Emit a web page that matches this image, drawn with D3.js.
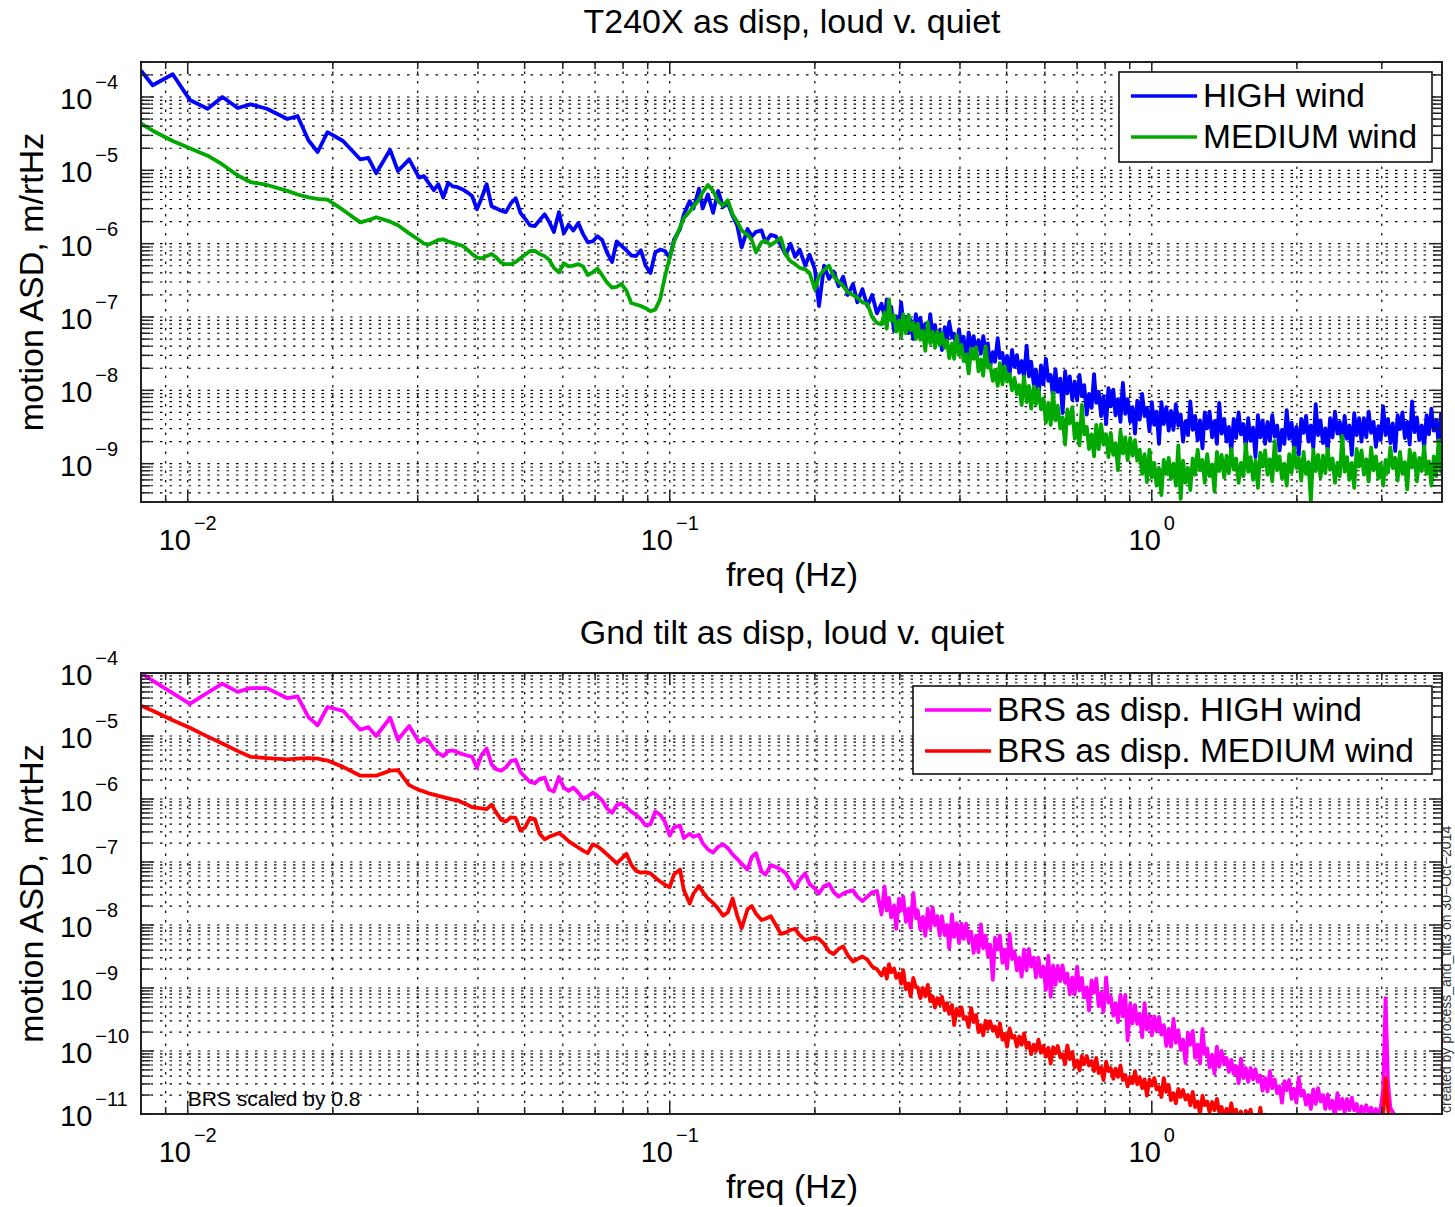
<!DOCTYPE html>
<meta charset="utf-8">
<style>
body { margin: 0; background: #fff; }
svg { display: block; font-family: "Liberation Sans", Arial, Helvetica, sans-serif; }
.grid line { stroke: #000; stroke-width: 1.2; stroke-dasharray: 2.5,7; }
.trace { fill: none; stroke-width: 3.8; stroke-linejoin: round; }
.frame { fill: none; stroke: #222; stroke-width: 2; }
.tick { stroke: #222; stroke-width: 1.5; }
</style>
<svg width="1455" height="1207"></svg>
<script src="https://cdn.jsdelivr.net/npm/d3@7"></script>
<script>
// frequency bins in Hz, shared by both plots
var freqHz = [
  0.0080, 0.00846, 0.00931, 0.0101, 0.0110, 0.0118, 0.0127, 0.0135, 0.0146, 0.0161, 0.0169, 0.0178, 0.0186, 0.0195, 0.0210, 0.0228, 0.0237, 0.0246, 0.0263, 0.0273, 0.0288,
  0.0302, 0.0309, 0.0316, 0.0324, 0.0331, 0.0339, 0.0347, 0.0355, 0.0363, 0.0372,
  0.0380, 0.0389, 0.0398, 0.0407, 0.0417, 0.0427, 0.0437, 0.0447, 0.0457, 0.0468,
  0.0479, 0.0490, 0.0501, 0.0513, 0.0525, 0.0537, 0.0550, 0.0562, 0.0575, 0.0589,
  0.0603, 0.0617, 0.0631, 0.0646, 0.0661, 0.0676, 0.0692, 0.0708, 0.0724, 0.0741,
  0.0759, 0.0776, 0.0794, 0.0813, 0.0832, 0.0851, 0.0871, 0.0891, 0.0912, 0.0933,
  0.0955, 0.0977, 0.100, 0.102, 0.105, 0.107, 0.110, 0.112, 0.115, 0.117,
  0.120, 0.123, 0.126, 0.129, 0.132, 0.135, 0.138, 0.141, 0.145, 0.148,
  0.151, 0.155, 0.158, 0.162, 0.166, 0.170, 0.174, 0.178, 0.182, 0.186,
  0.191, 0.195, 0.200, 0.204, 0.209, 0.214, 0.219, 0.224, 0.229, 0.234,
  0.240, 0.245, 0.251, 0.257, 0.263, 0.269,
  0.275, 0.279, 0.282, 0.285, 0.288, 0.292, 0.295, 0.299, 0.302, 0.305,
  0.309, 0.313, 0.316, 0.320, 0.324, 0.327, 0.331, 0.335, 0.339, 0.343,
  0.347, 0.351, 0.355, 0.359, 0.363, 0.367, 0.372, 0.376, 0.380, 0.385,
  0.389, 0.394, 0.398, 0.403, 0.407, 0.412, 0.417, 0.422, 0.427, 0.432,
  0.437, 0.442, 0.447, 0.452, 0.457, 0.462, 0.468, 0.473, 0.479, 0.484,
  0.490, 0.495, 0.501, 0.507, 0.513, 0.519, 0.525, 0.531, 0.537, 0.543,
  0.550, 0.556, 0.562, 0.569, 0.575, 0.582, 0.589, 0.596, 0.603, 0.610,
  0.617, 0.624, 0.631, 0.638, 0.646, 0.653, 0.661, 0.668, 0.676, 0.684,
  0.692, 0.700, 0.708, 0.716, 0.724, 0.733, 0.741, 0.750, 0.759, 0.767,
  0.776, 0.785, 0.794, 0.804, 0.813, 0.822, 0.832, 0.841, 0.851, 0.861,
  0.871, 0.881, 0.891, 0.902, 0.912, 0.923, 0.933, 0.944, 0.955, 0.966,
  0.977, 0.989, 1.000, 1.012, 1.023, 1.035, 1.047, 1.059, 1.072, 1.084,
  1.096, 1.109, 1.122, 1.135, 1.148, 1.161, 1.175, 1.189, 1.202, 1.216,
  1.230, 1.245, 1.259, 1.274, 1.288, 1.303, 1.318, 1.334, 1.349, 1.365,
  1.380, 1.396, 1.413, 1.429, 1.445, 1.462, 1.479, 1.496, 1.514, 1.531,
  1.549, 1.567, 1.585, 1.603, 1.622, 1.641, 1.660, 1.679, 1.698, 1.718,
  1.738, 1.758, 1.778, 1.799, 1.820, 1.841, 1.862, 1.884, 1.905, 1.928,
  1.950, 1.972, 1.995, 2.018, 2.042, 2.065, 2.089, 2.113, 2.138, 2.163,
  2.188, 2.213, 2.239, 2.265, 2.291, 2.317, 2.344, 2.371, 2.399, 2.427,
  2.455, 2.483, 2.512, 2.541, 2.570, 2.600, 2.630, 2.661, 2.692, 2.723,
  2.754, 2.786, 2.818, 2.851, 2.884, 2.917, 2.951, 2.985, 3.020, 3.055,
  3.090, 3.126, 3.162, 3.199, 3.236, 3.273, 3.311, 3.350, 3.388, 3.428,
  3.467, 3.508, 3.548, 3.589, 3.631, 3.673, 3.715, 3.758, 3.802, 3.846,
  3.890, 3.936, 3.981, 4.000
];

// ASD, as log10(m/rtHz)
var t240High = [
  -3.64, -3.84, -3.69, -4.04, -4.16, -4.00, -4.15, -4.10, -4.16, -4.30, -4.26, -4.59, -4.75, -4.48, -4.60, -4.85, -4.83, -5.04, -4.72, -5.01, -4.85,
  -5.10, -5.08, -5.17, -5.27, -5.19, -5.37, -5.17, -5.22, -5.23, -5.26,
  -5.30, -5.35, -5.53, -5.38, -5.19, -5.49, -5.52, -5.55, -5.57, -5.45,
  -5.38, -5.58, -5.66, -5.75, -5.76, -5.68, -5.60, -5.70, -5.84, -5.57,
  -5.86, -5.74, -5.82, -5.72, -5.87, -5.98, -5.97, -5.90, -5.95, -6.12,
  -6.25, -5.97, -6.03, -6.09, -6.16, -6.17, -6.09, -6.30, -6.40, -6.12,
  -6.08, -6.10, -6.19, -5.95, -5.80, -5.60, -5.42, -5.52, -5.25, -5.52,
  -5.33, -5.58, -5.28, -5.50, -5.45, -5.62, -5.75, -6.05, -5.80, -5.90,
  -5.84, -5.82, -5.98, -5.88, -5.90, -6.02, -6.15, -6.00, -6.18, -6.08,
  -6.30, -6.15, -6.35, -6.85, -6.30, -6.48, -6.38, -6.58, -6.45, -6.70,
  -6.55, -6.80, -6.62, -6.85, -6.70, -6.95,
  -6.82, -7.00, -6.76, -6.96, -6.86, -7.19, -6.99, -7.12, -6.80, -7.07,
  -7.00, -7.22, -7.04, -7.30, -6.96, -7.17, -7.01, -7.25, -7.09, -7.31,
  -6.96, -7.25, -7.11, -7.33, -7.18, -7.45, -7.14, -7.32, -7.07, -7.28,
  -7.23, -7.45, -7.17, -7.39, -7.27, -7.60, -7.21, -7.42, -7.26, -7.48,
  -7.32, -7.50, -7.26, -7.46, -7.36, -7.68, -7.48, -7.61, -7.29, -7.56,
  -7.49, -7.71, -7.53, -7.79, -7.45, -7.68, -7.52, -7.76, -7.60, -7.82,
  -7.39, -7.81, -7.61, -7.92, -7.72, -8.11, -7.66, -7.92, -7.57, -7.87,
  -7.79, -8.11, -7.71, -8.02, -7.84, -8.31, -7.74, -8.04, -7.81, -8.13,
  -7.88, -8.14, -7.79, -8.08, -7.93, -8.33, -8.05, -8.24, -7.78, -8.17,
  -8.02, -8.35, -8.08, -8.46, -7.97, -8.22, -7.99, -8.34, -8.12, -8.43,
  -7.90, -8.32, -8.12, -8.43, -8.23, -8.59, -8.14, -8.40, -8.05, -8.35,
  -8.24, -8.56, -8.16, -8.47, -8.29, -8.73, -8.16, -8.46, -8.23, -8.55,
  -8.28, -8.54, -8.19, -8.48, -8.33, -8.70, -8.42, -8.61, -8.15, -8.54,
  -8.35, -8.68, -8.41, -8.79, -8.30, -8.52, -8.29, -8.64, -8.42, -8.73,
  -8.17, -8.59, -8.39, -8.70, -8.50, -8.84, -8.39, -8.65, -8.30, -8.60,
  -8.46, -8.78, -8.38, -8.69, -8.51, -8.91, -8.34, -8.64, -8.41, -8.73,
  -8.43, -8.69, -8.34, -8.63, -8.48, -8.82, -8.54, -8.73, -8.27, -8.66,
  -8.44, -8.77, -8.50, -8.88, -8.39, -8.58, -8.35, -8.70, -8.48, -8.79,
  -8.19, -8.61, -8.41, -8.72, -8.52, -8.83, -8.38, -8.64, -8.29, -8.59,
  -8.43, -8.75, -8.35, -8.66, -8.48, -8.88, -8.31, -8.61, -8.38, -8.70,
  -8.38, -8.64, -8.29, -8.58, -8.43, -8.77, -8.49, -8.68, -8.22, -8.61,
  -8.39, -8.72, -8.45, -8.83, -8.34, -8.53, -8.30, -8.65, -8.43, -8.74,
  -8.15, -8.57, -8.37, -8.68, -8.48, -8.79, -8.34, -8.60, -8.25, -8.55,
  -8.40, -8.72, -8.32, -8.55
];
var t240Medium = [
  -4.36, -4.46, -4.60, -4.70, -4.80, -4.92, -5.07, -5.16, -5.20, -5.28, -5.33, -5.37, -5.39, -5.40, -5.54, -5.71, -5.68, -5.64, -5.70, -5.75, -5.86,
  -5.95, -6.00, -6.01, -5.98, -5.95, -5.94, -5.97, -5.99, -6.01, -6.03,
  -6.08, -6.14, -6.19, -6.20, -6.17, -6.14, -6.19, -6.26, -6.28, -6.28,
  -6.25, -6.20, -6.15, -6.10, -6.10, -6.14, -6.17, -6.22, -6.33, -6.39,
  -6.27, -6.31, -6.30, -6.28, -6.31, -6.43, -6.39, -6.34, -6.43, -6.53,
  -6.60, -6.59, -6.55, -6.64, -6.81, -6.83, -6.85, -6.88, -6.92, -6.90,
  -6.76, -6.45, -6.19, -5.98, -5.78, -5.65, -5.56, -5.49, -5.40, -5.30,
  -5.20, -5.28, -5.42, -5.48, -5.41, -5.60, -5.70, -5.82, -5.88, -5.95,
  -6.12, -5.98, -5.96, -6.02, -5.97, -5.92, -6.15, -6.24, -6.28, -6.33,
  -6.35, -6.40, -6.62, -6.44, -6.36, -6.30, -6.45, -6.52, -6.58, -6.66,
  -6.70, -6.74, -6.80, -6.82, -7.00, -7.08,
  -7.10, -6.94, -7.16, -6.76, -7.05, -6.98, -7.20, -7.05, -7.27, -6.96,
  -7.22, -6.97, -7.18, -7.08, -7.30, -7.09, -7.31, -7.19, -7.46, -7.07,
  -7.36, -7.20, -7.42, -7.20, -7.38, -7.22, -7.42, -7.32, -7.56, -7.36,
  -7.57, -7.25, -7.52, -7.38, -7.60, -7.51, -7.77, -7.43, -7.57, -7.41,
  -7.74, -7.58, -7.80, -7.40, -7.69, -7.65, -7.87, -7.72, -7.94, -7.63,
  -7.92, -7.67, -7.88, -7.78, -8.00, -7.83, -8.05, -7.93, -8.20, -7.81,
  -8.16, -7.94, -8.25, -7.95, -8.19, -7.98, -8.26, -8.11, -8.44, -8.17,
  -8.47, -8.03, -8.41, -8.21, -8.52, -8.37, -8.74, -8.26, -8.45, -8.23,
  -8.66, -8.45, -8.75, -8.20, -8.60, -8.50, -8.80, -8.60, -8.90, -8.47,
  -8.80, -8.46, -8.74, -8.60, -8.91, -8.58, -8.88, -8.72, -9.09, -8.55,
  -8.86, -8.64, -8.95, -8.65, -8.89, -8.68, -8.96, -8.81, -9.14, -8.87,
  -9.25, -8.81, -9.19, -8.99, -9.30, -9.06, -9.43, -8.95, -9.14, -8.92,
  -9.21, -9.00, -9.30, -8.75, -9.48, -8.96, -9.26, -9.06, -9.36, -8.93,
  -9.15, -8.81, -9.09, -8.95, -9.26, -8.87, -9.17, -9.01, -9.38, -8.84,
  -9.10, -8.88, -9.19, -8.89, -9.13, -8.80, -9.08, -8.93, -9.26, -8.99,
  -9.17, -8.73, -9.11, -8.91, -9.22, -8.96, -9.33, -8.85, -9.04, -8.82,
  -9.15, -8.94, -9.24, -8.69, -9.09, -8.90, -9.20, -9.00, -9.30, -8.87,
  -9.12, -8.78, -9.06, -8.92, -9.23, -8.84, -9.14, -8.98, -9.52, -8.81,
  -9.10, -8.88, -9.19, -8.89, -9.13, -8.80, -9.08, -8.93, -9.26, -8.99,
  -9.17, -8.62, -9.11, -8.91, -9.22, -8.99, -9.33, -8.80, -9.04, -8.82,
  -9.15, -8.94, -9.24, -8.78, -9.09, -8.90, -9.20, -9.00, -9.30, -8.95,
  -9.12, -8.78, -9.06, -8.92, -9.23, -8.84, -9.14, -8.98, -9.35, -8.81,
  -9.05, -8.86, -9.24, -8.92, -9.10, -8.76, -9.14, -8.97, -9.30, -8.90,
  -9.17, -8.68, -9.11, -8.95
];
var brsHigh = [
  -4.00, -4.12, -4.32, -4.49, -4.31, -4.17, -4.30, -4.24, -4.24, -4.40, -4.37, -4.70, -4.83, -4.54, -4.60, -4.90, -4.86, -5.00, -4.71, -5.06, -4.84,
  -5.10, -5.04, -5.08, -5.20, -5.27, -5.32, -5.24, -5.23, -5.26, -5.29,
  -5.31, -5.33, -5.50, -5.30, -5.20, -5.45, -5.53, -5.55, -5.50, -5.40,
  -5.38, -5.57, -5.65, -5.73, -5.75, -5.68, -5.66, -5.85, -5.88, -5.65,
  -5.82, -5.87, -5.82, -5.90, -6.00, -5.96, -5.90, -5.95, -6.02, -6.15,
  -6.22, -6.10, -6.07, -6.13, -6.20, -6.25, -6.32, -6.42, -6.40, -6.20,
  -6.25, -6.36, -6.58, -6.45, -6.42, -6.62, -6.55, -6.60, -6.57, -6.70,
  -6.80, -6.85, -6.76, -6.72, -6.78, -6.88, -6.95, -7.03, -7.12, -6.92,
  -6.86, -7.15, -7.20, -7.05, -7.08, -7.12, -7.18, -7.30, -7.42, -7.28,
  -7.18, -7.35, -7.42, -7.50, -7.38, -7.35, -7.48, -7.55, -7.50, -7.47,
  -7.45, -7.55, -7.62, -7.55, -7.48, -7.46,
  -7.83, -7.39, -7.77, -7.57, -7.88, -7.69, -8.06, -7.58, -7.77, -7.55,
  -7.95, -7.74, -8.04, -7.49, -7.89, -7.77, -8.07, -7.87, -8.17, -7.74,
  -8.06, -7.72, -8.00, -7.86, -8.17, -7.86, -8.16, -8.00, -8.37, -7.83,
  -8.19, -7.97, -8.28, -7.98, -8.22, -7.98, -8.26, -8.11, -8.44, -8.17,
  -8.43, -7.99, -8.37, -8.17, -8.48, -8.31, -8.87, -8.20, -8.39, -8.17,
  -8.60, -8.39, -8.69, -8.14, -8.54, -8.42, -8.72, -8.52, -8.82, -8.39,
  -8.72, -8.38, -8.66, -8.52, -8.83, -8.52, -8.82, -8.66, -9.03, -8.49,
  -9.14, -8.64, -8.95, -8.65, -8.89, -8.64, -8.92, -8.77, -9.10, -8.83,
  -9.10, -8.66, -9.04, -8.84, -9.15, -8.99, -9.36, -8.88, -9.07, -8.85,
  -9.29, -9.08, -9.38, -8.83, -9.23, -9.14, -9.44, -9.24, -9.54, -9.11,
  -9.45, -9.11, -9.83, -9.25, -9.56, -9.27, -9.57, -9.41, -9.78, -9.24,
  -9.66, -9.44, -9.75, -9.45, -9.69, -9.46, -9.74, -9.59, -9.92, -9.65,
  -9.93, -9.49, -9.87, -9.67, -9.98, -9.82, -10.19, -9.71, -9.90, -9.68,
  -10.11, -9.90, -10.20, -9.65, -10.05, -9.96, -10.26, -10.06, -10.36, -9.93,
  -10.25, -10.00, -10.21, -10.11, -10.33, -10.14, -10.36, -10.24, -10.51, -10.12,
  -10.43, -10.27, -10.49, -10.27, -10.45, -10.29, -10.49, -10.39, -10.63, -10.43,
  -10.64, -10.32, -10.59, -10.45, -10.67, -10.56, -10.82, -10.48, -10.62, -10.46,
  -10.76, -10.60, -10.82, -10.42, -10.71, -10.63, -10.85, -10.70, -10.92, -10.61,
  -10.84, -10.59, -10.80, -10.70, -10.92, -10.69, -10.91, -10.79, -11.06, -10.67,
  -10.92, -10.76, -10.98, -10.76, -10.94, -10.74, -10.94, -10.84, -11.08, -10.88,
  -10.97, -10.86, -10.99, -10.90, -11.00, -10.92, -11.01, -10.90, -10.60, -9.16,
  -10.50, -10.90, -10.97, -11.02, -11.10, -11.30, -11.25, -11.35, -11.30, -11.40,
  -11.35, -11.40, -11.45, -11.40, -11.50, -11.45, -11.50, -11.50, -11.50, -11.50,
  -11.50, -11.50, -11.50, -11.50
];
var brsMedium = [
  -4.52, -4.60, -4.75, -4.87, -5.01, -5.12, -5.24, -5.33, -5.35, -5.37, -5.36, -5.35, -5.36, -5.39, -5.49, -5.63, -5.63, -5.63, -5.55, -5.54, -5.78,
  -5.86, -5.88, -5.91, -5.93, -5.95, -5.97, -5.99, -6.01, -6.02, -6.06,
  -6.09, -6.13, -6.14, -6.15, -6.16, -6.09, -6.22, -6.33, -6.36, -6.29,
  -6.30, -6.50, -6.45, -6.30, -6.32, -6.55, -6.64, -6.60, -6.57, -6.54,
  -6.60, -6.67, -6.72, -6.77, -6.82, -6.86, -6.72, -6.75, -6.81, -6.88,
  -6.95, -7.02, -6.95, -6.87, -7.04, -7.14, -7.17, -7.16, -7.18, -7.25,
  -7.31, -7.36, -7.40, -7.20, -7.12, -7.45, -7.66, -7.50, -7.38, -7.47,
  -7.58, -7.65, -7.74, -7.85, -7.80, -7.58, -7.85, -8.05, -7.75, -7.70,
  -7.82, -7.92, -7.90, -7.86, -8.00, -8.14, -8.12, -8.08, -8.06, -8.16,
  -8.24, -8.22, -8.20, -8.22, -8.30, -8.42, -8.46, -8.38, -8.34, -8.48,
  -8.58, -8.54, -8.50, -8.55, -8.66, -8.70,
  -8.80, -8.69, -8.85, -8.62, -8.75, -8.69, -8.84, -8.77, -8.93, -8.72,
  -9.02, -8.93, -9.13, -8.84, -8.99, -8.99, -9.16, -9.00, -9.13, -8.95,
  -9.21, -9.13, -9.31, -9.16, -9.26, -9.14, -9.35, -9.24, -9.41, -9.27,
  -9.59, -9.33, -9.43, -9.31, -9.49, -9.46, -9.62, -9.32, -9.54, -9.43,
  -9.70, -9.59, -9.75, -9.52, -9.65, -9.53, -9.68, -9.61, -9.77, -9.56,
  -9.82, -9.73, -9.93, -9.64, -9.79, -9.76, -9.93, -9.77, -9.90, -9.72,
  -9.95, -9.87, -10.05, -9.90, -10.00, -9.82, -10.03, -9.92, -10.09, -9.95,
  -10.20, -9.94, -10.04, -9.92, -10.10, -10.05, -10.21, -9.91, -10.13, -10.02,
  -10.26, -10.15, -10.31, -10.08, -10.21, -10.08, -10.23, -10.16, -10.32, -10.11,
  -10.35, -10.26, -10.46, -10.17, -10.32, -10.27, -10.44, -10.28, -10.41, -10.23,
  -10.46, -10.38, -10.56, -10.41, -10.51, -10.32, -10.53, -10.42, -10.59, -10.45,
  -10.71, -10.45, -10.55, -10.43, -10.61, -10.57, -10.73, -10.43, -10.65, -10.54,
  -10.78, -10.67, -10.83, -10.60, -10.73, -10.62, -10.77, -10.70, -10.86, -10.65,
  -10.89, -10.80, -11.00, -10.71, -10.86, -10.80, -10.97, -10.81, -10.94, -10.76,
  -10.97, -10.89, -11.07, -10.92, -11.02, -10.83, -11.04, -10.93, -11.10, -10.96,
  -11.21, -10.95, -11.05, -10.93, -11.11, -11.04, -11.20, -10.90, -11.12, -11.01,
  -11.22, -11.11, -11.27, -11.04, -11.17, -11.03, -11.18, -11.11, -11.27, -11.06,
  -11.27, -11.18, -11.38, -11.09, -11.24, -11.12, -11.29, -11.13, -11.26, -11.08,
  -11.31, -11.23, -11.41, -11.26, -11.36, -11.12, -11.33, -11.22, -11.39, -11.25,
  -11.45, -11.19, -11.29, -11.17, -11.35, -11.24, -11.40, -11.10, -11.32, -11.21,
  -11.45, -11.34, -11.50, -11.27, -11.40, -11.22, -11.37, -11.30, -11.00, -10.43,
  -10.90, -11.30, -11.50, -11.50, -11.50, -11.50, -11.50, -11.50, -11.50, -11.50,
  -11.50, -11.50, -11.50, -11.50, -11.50, -11.50, -11.50, -11.50, -11.50, -11.50,
  -11.50, -11.50, -11.50, -11.50
];

var xTickVals = [0.01, 0.1, 1];
var xTickExps = ["\u22122", "\u22121", "0"];
var yTickValsTop = [1e-4, 1e-5, 1e-6, 1e-7, 1e-8, 1e-9];
var yTickExpsTop = ["\u22124", "\u22125", "\u22126", "\u22127", "\u22128", "\u22129"];
var yTickValsBot = [1e-4, 1e-5, 1e-6, 1e-7, 1e-8, 1e-9, 1e-10, 1e-11];
var yTickExpsBot = ["\u22124", "\u22125", "\u22126", "\u22127", "\u22128", "\u22129", "\u221210", "\u221211"];

var svg = d3.select("svg");
var left = 141, right = 1442;
var x = d3.scaleLog().domain([0.008, 4]).range([left, right]);

function isDecade(v) {
  var l = Math.log10(v);
  return Math.abs(l - Math.round(l)) < 1e-6;
}

var panels = [
  { title: "T240X as disp, loud v. quiet", top: 62, bottom: 502, yDomain: [3e-10, 3e-4],
    yTicks: yTickValsTop, yExps: yTickExpsTop,
    series: [ { vals: t240High, color: "#0000ff", name: "HIGH wind" },
              { vals: t240Medium, color: "#00a800", name: "MEDIUM wind" } ],
    legend: { x: 1119, y: 72, w: 313, h: 90 } },
  { title: "Gnd tilt as disp, loud v. quiet", top: 673, bottom: 1114, yDomain: [1e-11, 1e-4],
    yTicks: yTickValsBot, yExps: yTickExpsBot,
    series: [ { vals: brsHigh, color: "#ff00ff", name: "BRS as disp. HIGH wind" },
              { vals: brsMedium, color: "#ff0000", name: "BRS as disp. MEDIUM wind" } ],
    legend: { x: 913, y: 686, w: 519, h: 88 },
    note: "BRS scaled by 0.8" }
];

function drawPanel(p, idx) {
  var y = d3.scaleLog().domain(p.yDomain).range([p.bottom, p.top]);
  var g = svg.append("g");

  svg.append("clipPath").attr("id", "clip" + idx).append("rect")
    .attr("x", left).attr("y", p.top)
    .attr("width", right - left).attr("height", p.bottom - p.top);

  // dotted grid on every decade step
  var grid = g.append("g").attr("class", "grid");
  grid.selectAll(".gx").data(x.ticks()).enter().append("line")
    .attr("x1", function(d) { return x(d); }).attr("x2", function(d) { return x(d); })
    .attr("y1", p.top).attr("y2", p.bottom);
  grid.selectAll(".gy").data(y.ticks()).enter().append("line")
    .attr("x1", left).attr("x2", right)
    .attr("y1", function(d) { return y(d); }).attr("y2", function(d) { return y(d); });

  // traces
  var line = d3.line()
    .x(function(d, i) { return x(freqHz[i]); })
    .y(function(d) { return y(Math.pow(10, d)); });
  g.append("g").attr("clip-path", "url(#clip" + idx + ")")
    .selectAll("path").data(p.series).enter().append("path")
    .attr("class", "trace")
    .attr("stroke", function(s) { return s.color; })
    .attr("d", function(s) { return line(s.vals); });

  // frame + inward ticks
  g.append("rect").attr("class", "frame")
    .attr("x", left).attr("y", p.top)
    .attr("width", right - left).attr("height", p.bottom - p.top);

  var ticks = g.append("g");
  x.ticks().forEach(function(v) {
    var len = isDecade(v) ? 12 : 7;
    ticks.append("line").attr("class", "tick")
      .attr("x1", x(v)).attr("x2", x(v)).attr("y1", p.bottom).attr("y2", p.bottom - len);
    ticks.append("line").attr("class", "tick")
      .attr("x1", x(v)).attr("x2", x(v)).attr("y1", p.top).attr("y2", p.top + len);
  });
  y.ticks().forEach(function(v) {
    var len = isDecade(v) ? 13 : 9;
    ticks.append("line").attr("class", "tick")
      .attr("x1", left).attr("x2", left + len).attr("y1", y(v)).attr("y2", y(v));
    ticks.append("line").attr("class", "tick")
      .attr("x1", right).attr("x2", right - len).attr("y1", y(v)).attr("y2", y(v));
  });

  // tick labels, 10^n
  g.selectAll(".xl").data(xTickVals).enter().append("text")
    .attr("x", function(d) { return x(d); }).attr("y", p.bottom + 48)
    .attr("text-anchor", "middle").attr("font-size", 29)
    .each(function(d, i) {
      var t = d3.select(this);
      t.append("tspan").text("10");
      t.append("tspan").attr("dx", 3).attr("dy", -20).attr("font-size", 20).text(xTickExps[i]);
    });
  g.selectAll(".yl").data(p.yTicks).enter().append("text")
    .attr("x", 60).attr("y", function(d) { return y(d) + 12; })
    .attr("font-size", 29)
    .each(function(d, i) {
      var t = d3.select(this);
      t.append("tspan").text("10");
      t.append("tspan").attr("dx", 3).attr("dy", -20).attr("font-size", 20).text(p.yExps[i]);
    });

  // titles
  g.append("text").attr("x", 792).attr("y", p.top - 29)
    .attr("text-anchor", "middle").attr("font-size", 34).text(p.title);
  g.append("text").attr("x", 792).attr("y", p.bottom + 84)
    .attr("text-anchor", "middle").attr("font-size", 34).text("freq (Hz)");
  g.append("text")
    .attr("transform", "translate(43," + ((p.top + p.bottom) / 2) + ") rotate(-90)")
    .attr("text-anchor", "middle").attr("font-size", 34).text("motion ASD, m/rtHz");

  // legend
  var L = p.legend;
  var lg = g.append("g");
  lg.append("rect").attr("x", L.x).attr("y", L.y).attr("width", L.w).attr("height", L.h)
    .attr("fill", "#fff").attr("stroke", "#111").attr("stroke-width", 1.6);
  p.series.forEach(function(s, i) {
    var ly = L.y + 24 + i * 41;
    lg.append("line").attr("x1", L.x + 12).attr("x2", L.x + 78)
      .attr("y1", ly).attr("y2", ly)
      .attr("stroke", s.color).attr("stroke-width", 3.5);
    lg.append("text").attr("x", L.x + 84).attr("y", ly + 11)
      .attr("font-size", 33.5).text(s.name);
  });

  if (p.note) {
    g.append("text").attr("x", x(0.01)).attr("y", y(Math.pow(10, -10.87)))
      .attr("font-size", 21).text(p.note);
  }
}

panels.forEach(drawPanel);

svg.append("text")
  .attr("transform", "translate(1451,1113) rotate(-90)")
  .attr("font-size", 14).attr("fill", "#333")
  .text("created by process_and_tilt3 on 30\u2212Oct\u22122014");
</script>
